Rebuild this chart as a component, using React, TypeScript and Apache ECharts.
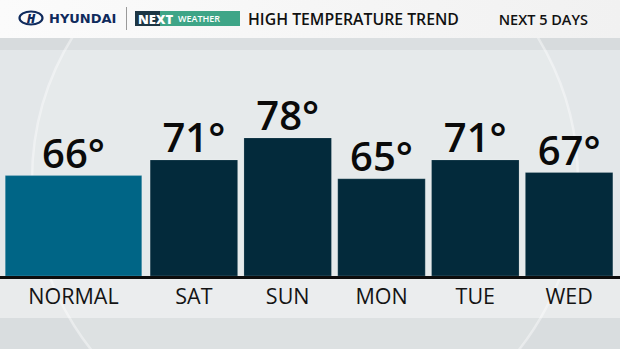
import React, { useEffect, useRef } from "react";
import * as echarts from "echarts";

const normalCategory = ["NORMAL"];
const normalValues = [66];
const dayCategories = ["SAT", "SUN", "MON", "TUE", "WED"];
const dayValues = [71, 78, 65, 71, 67];
const titleText = "HIGH TEMPERATURE TREND";
const subtitleText = "NEXT 5 DAYS";

const FONT = "'Open Sans', 'Noto Sans', sans-serif";

export default function App() {
  const ref = useRef<HTMLDivElement>(null);
  useEffect(() => {
    if (!ref.current) return;
    const chart = echarts.init(ref.current, null, { renderer: "svg" });
    const valueLabel = {
      show: true,
      position: "top",
      distance: 3,
      fontFamily: FONT,
      fontSize: 40,
      fontWeight: 600,
      color: "#0a0a0a",
      formatter: (p: any) => p.value + "°",
    };
    const xLabel = {
      fontFamily: FONT,
      fontSize: 21.5,
      fontWeight: 500,
      color: "#141414",
      margin: 8,
    };
    const headerFill = new echarts.graphic.LinearGradient(0, 0, 1, 0, [
      { offset: 0, color: "#fbfbfb" },
      { offset: 1, color: "#f1f1f1" },
    ]);
    chart.setOption({
      animation: false,
      backgroundColor: "#e3e7e9",
      grid: [
        { left: 0, width: 147, top: 37, bottom: 73 },
        { left: 147, right: 4, top: 37, bottom: 73 },
      ],
      xAxis: [
        {
          type: "category",
          gridIndex: 0,
          data: normalCategory,
          axisLine: { show: false },
          axisTick: { show: false },
          axisLabel: xLabel,
        },
        {
          type: "category",
          gridIndex: 1,
          data: dayCategories,
          axisLine: { show: false },
          axisTick: { show: false },
          axisLabel: xLabel,
        },
      ],
      yAxis: [
        { type: "value", gridIndex: 0, min: 34, max: 110, show: false, splitLine: { show: false } },
        { type: "value", gridIndex: 1, min: 34, max: 110, show: false, splitLine: { show: false } },
      ],
      graphic: [
        { type: "rect", z: -10, shape: { x: 0, y: 38, width: 620, height: 12 }, style: { fill: "#d7dbdd" } },
        { type: "rect", z: -10, shape: { x: 0, y: 279, width: 620, height: 39 }, style: { fill: "#e9ebec" } },
        { type: "rect", z: -10, shape: { x: 0, y: 318, width: 620, height: 31 }, style: { fill: "#d9dddf" } },
        {
          type: "circle",
          z: -9,
          silent: true,
          shape: { cx: 305, cy: 180, r: 273 },
          style: {
            fill: "rgba(255,255,255,0.12)",
            stroke: "rgba(255,255,255,0.4)",
            lineWidth: 2.5,
          },
        },
        {
          type: "rect",
          z: -8,
          shape: { x: 0, y: 0, width: 620, height: 38 },
          style: { fill: headerFill },
        },
        // baseline
        { type: "rect", z: 5, shape: { x: 0, y: 276, width: 620, height: 3 }, style: { fill: "#0d0d0d" } },
        // Hyundai logo
        {
          type: "ellipse",
          z: 5,
          shape: { cx: 31, cy: 18, rx: 11.5, ry: 6.5 },
          style: { fill: "none", stroke: "#0f2a5c", lineWidth: 2.2 },
        },
        {
          type: "text",
          z: 5,
          style: {
            text: "H",
            x: 31,
            y: 18,
            align: "center",
            verticalAlign: "middle",
            fontFamily: FONT,
            fontSize: 12,
            fontWeight: 800,
            fontStyle: "italic",
            fill: "#0f2a5c",
          },
        },
        {
          type: "text",
          z: 5,
          style: {
            text: "HYUNDAI",
            x: 49,
            y: 18,
            verticalAlign: "middle",
            fontFamily: "'DejaVu Sans', sans-serif",
            fontSize: 13,
            fontWeight: "bold",
            fill: "#0f2a5c",
          },
        },
        { type: "rect", z: 5, shape: { x: 126, y: 7, width: 1, height: 23 }, style: { fill: "#9a9a9a" } },
        // NEXT WEATHER badge
        { type: "rect", z: 5, shape: { x: 135, y: 11, width: 25, height: 15 }, style: { fill: "#1d3644" } },
        { type: "rect", z: 5, shape: { x: 160, y: 11, width: 80, height: 15 }, style: { fill: "#3ea587" } },
        {
          type: "text",
          z: 6,
          style: {
            text: "NEXT",
            x: 138,
            y: 18.5,
            verticalAlign: "middle",
            fontFamily: FONT,
            fontSize: 13,
            fontWeight: 800,
            fill: "#ffffff",
          },
        },
        {
          type: "text",
          z: 6,
          style: {
            text: "WEATHER",
            x: 178,
            y: 18.5,
            verticalAlign: "middle",
            fontFamily: FONT,
            fontSize: 9,
            fontWeight: 600,
            fill: "#ffffff",
          },
        },
        {
          type: "text",
          z: 5,
          style: {
            text: titleText,
            x: 248,
            y: 19,
            verticalAlign: "middle",
            fontFamily: FONT,
            fontSize: 15.8,
            fontWeight: 600,
            fill: "#111111",
          },
        },
        {
          type: "text",
          z: 5,
          style: {
            text: subtitleText,
            x: 588,
            y: 19,
            align: "right",
            verticalAlign: "middle",
            fontFamily: FONT,
            fontSize: 14.5,
            fontWeight: 600,
            fill: "#111111",
          },
        },
      ],
      series: [
        {
          type: "bar",
          xAxisIndex: 0,
          yAxisIndex: 0,
          data: normalValues,
          barWidth: 137,
          itemStyle: { color: "#006586", borderColor: "rgba(255,255,255,0.35)", borderWidth: 0.5 },
          label: valueLabel,
        },
        {
          type: "bar",
          xAxisIndex: 1,
          yAxisIndex: 1,
          data: dayValues,
          barWidth: 88,
          itemStyle: { color: "#032a3b", borderColor: "rgba(255,255,255,0.35)", borderWidth: 0.5 },
          label: valueLabel,
        },
      ],
    });
    return () => chart.dispose();
  }, []);
  return <div ref={ref} style={{ width: 620, height: 349, position: "fixed", left: 0, top: 0 }} />;
}
